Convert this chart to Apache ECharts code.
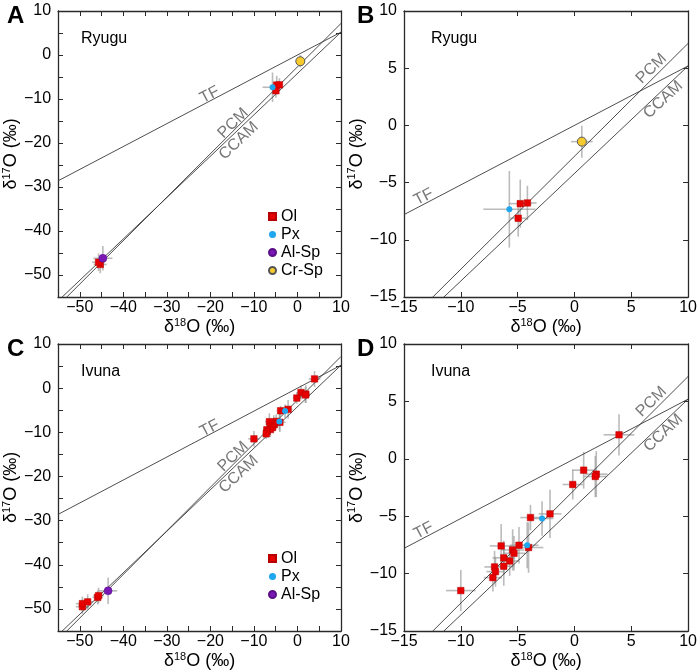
<!DOCTYPE html>
<html>
<head>
<meta charset="utf-8">
<script src="https://cdn.jsdelivr.net/npm/echarts@6/dist/echarts.min.js"></script>
<style>html,body{margin:0;padding:0;background:#fff}#c{width:700px;height:672px}</style>
</head>
<body>
<div id="c"></div>
<script>
// ---------------- data ----------------
// Ryugu
const RY_OL = [[-4.77,-6.84],[-4.14,-6.78],[-4.95,-8.12],[-45.3,-47.6],[-45.7,-47.1]];
const RY_OL_ERR = [[1.0,2.1],[0.8,1.5],[0.7,1.6],[1.5,2.0],[1.5,2.0]];
const RY_PX = [[-5.73,-7.33]];
const RY_PX_ERR = [[2.3,3.35]];
const RY_ALSP = [[-44.7,-46.2]];
const RY_ALSP_ERR = [[2.2,2.8]];
const RY_CRSP = [[0.65,-1.42]];
const RY_CRSP_ERR = [[0.95,1.4]];
// Ivuna
const IV_OL = [[3.92,2.09],[0.81,-0.99],[1.92,-1.34],[1.83,-1.54],[-0.15,-2.24],[-3.87,-5.12],[-2.15,-4.80],
  [-4.04,-7.73],[-4.88,-7.53],[-5.44,-7.94],[-5.32,-8.23],[-6.45,-7.59],[-6.22,-8.63],[-5.70,-8.90],
  [-7.03,-9.42],[-6.22,-9.36],[-6.95,-9.83],[-7.18,-10.35],[-10.0,-11.48],
  [-49.4,-49.5],[-49.4,-48.8],[-48.2,-48.4],[-45.9,-47.4],[-45.7,-47.0]];
const IV_OL_ERR = [[1.35,1.8],[1.0,1.6],[1.0,2.0],[1.0,1.8],[0.9,1.3],[0.9,1.1],[1.0,2.1],
  [1.3,2.2],[0.8,1.6],[1.0,1.8],[1.0,1.5],[1.0,1.9],[1.0,1.5],[0.8,1.3],
  [0.9,1.4],[0.9,1.7],[0.8,1.3],[0.8,1.2],[1.3,1.8],
  [1.5,1.6],[1.5,1.6],[1.2,1.7],[1.2,1.6],[1.2,1.8]];
const IV_PX = [[-2.85,-5.2],[-4.16,-7.53]];
const IV_PX_ERR = [[1.0,1.5],[1.0,2.0]];
const IV_ALSP = [[-43.5,-45.9]];
const IV_ALSP_ERR = [[2.1,3.0]];

// reference lines: d17O = slope * d18O + intercept
const LINE_NAMES = ['TF','PCM','CCAM'];
const LINE_SLOPE = [0.52, 0.987, 0.94];
const LINE_INTERCEPT = [0, -2.70, -4.20];

// axis ranges / ticks
const WIDE_RANGE = [-55, 10];
const WIDE_TICK = 5;
const WIDE_LABEL_STEP = 10;
const ZOOM_RANGE = [-15, 10];
const ZOOM_TICK = 5;
const ZOOM_LABEL_STEP = 5;

const PHASES = ['Ol','Px','Al-Sp','Cr-Sp'];

// ---------------- styling / layout ----------------
const FONT = "'Liberation Sans', Arial, Helvetica, sans-serif";
const W = 287;
const STYLE = {
  'Ol':    {symbol:'rect',   size:6.5, color:'#e60000', border:'#b80000', bw:0.5},
  'Px':    {symbol:'circle', size:6,   color:'#1ea6ee', border:'#1ea6ee', bw:0},
  'Al-Sp': {symbol:'circle', size:8,   color:'#7a18b5', border:'#5a0f88', bw:0.5},
  'Cr-Sp': {symbol:'circle', size:9,   color:'#f7cb2d', border:'#555',    bw:1}
};

const ryugu = {'Ol':[RY_OL,RY_OL_ERR],'Px':[RY_PX,RY_PX_ERR],'Al-Sp':[RY_ALSP,RY_ALSP_ERR],'Cr-Sp':[RY_CRSP,RY_CRSP_ERR]};
const ivuna = {'Ol':[IV_OL,IV_OL_ERR],'Px':[IV_PX,IV_PX_ERR],'Al-Sp':[IV_ALSP,IV_ALSP_ERR]};

// label anchor x (on the line) and perpendicular offset (px, + = above)
const WIDE_LBL = {TF:{x:-19.6,d:5.5}, PCM:{x:-13.9,d:5.5}, CCAM:{x:-14.8,d:-8.4}};
const ZOOM_LBL = {TF:{x:-13.0,d:6.5}, PCM:{x:7.26,d:8}, CCAM:{x:7.37,d:-7.5}};

const panels = [
  {letter:'A', site:'Ryugu', left:54,  top:11,  h:286, range:WIDE_RANGE, tick:WIDE_TICK, lstep:WIDE_LABEL_STEP, data:ryugu, lbl:WIDE_LBL, legendTop:205},
  {letter:'B', site:'Ryugu', left:404, top:11,  h:286, range:ZOOM_RANGE, tick:ZOOM_TICK, lstep:ZOOM_LABEL_STEP, data:ryugu, lbl:ZOOM_LBL},
  {letter:'C', site:'Ivuna', left:54,  top:344, h:287, range:WIDE_RANGE, tick:WIDE_TICK, lstep:WIDE_LABEL_STEP, data:ivuna, lbl:WIDE_LBL, legendTop:547},
  {letter:'D', site:'Ivuna', left:404, top:344, h:287, range:ZOOM_RANGE, tick:ZOOM_TICK, lstep:ZOOM_LABEL_STEP, data:ivuna, lbl:ZOOM_LBL}
];

function minus(v){ return v < 0 ? '\u2212' + Math.abs(v) : String(v); }
function axisName(n){ return '{d|\u03b4}{s|' + n + '}{d|O (\u2030)}'; }
const nameStyle = {
  color:'#000', fontFamily:FONT,
  rich:{ d:{fontSize:18, fontFamily:FONT, color:'#000'},
         s:{fontSize:11, fontFamily:FONT, color:'#000', padding:[0,0,9,0]} }
};

const grids=[], xAxes=[], yAxes=[], series=[], titles=[], legends=[];

panels.forEach((p, i) => {
  const [mn, mx] = p.range;
  grids.push({left:p.left, top:p.top, width:W, height:p.h});
  const fmt = v => (Math.abs(v % p.lstep) < 1e-9 ? minus(v) : '');
  const base = {
    gridIndex:i, type:'value', min:mn, max:mx, interval:p.tick, scale:false,
    splitLine:{show:false},
    axisLine:{show:true, onZero:false, lineStyle:{color:'#2a2a2a', width:1.3}},
    axisTick:{show:true, inside:true, length:5, lineStyle:{color:'#2a2a2a', width:1}}
  };
  xAxes.push(Object.assign({}, base, {
    position:'bottom',
    axisLabel:{formatter:fmt, fontSize:16, color:'#000', margin:3, fontFamily:FONT, showMinLabel:true, showMaxLabel:true, hideOverlap:false},
    name:axisName(18), nameLocation:'middle', nameGap:20, nameTextStyle:nameStyle
  }));
  xAxes.push(Object.assign({}, base, {position:'top', axisLabel:{show:false}}));
  yAxes.push(Object.assign({}, base, {
    position:'left',
    axisLabel:{formatter:fmt, fontSize:16, color:'#000', margin:7, fontFamily:FONT, showMinLabel:true, showMaxLabel:true, hideOverlap:false},
    name:axisName(17), nameLocation:'middle', nameRotate:90, nameGap:30, nameTextStyle:nameStyle
  }));
  yAxes.push(Object.assign({}, base, {position:'right', axisLabel:{show:false}}));

  const xi = 2*i, yi = 2*i;
  const inRange = pt => pt[0] >= mn && pt[0] <= mx && pt[1] >= mn && pt[1] <= mx;

  // error bars
  const errData = [];
  Object.keys(p.data).forEach(k => {
    const [pts, errs] = p.data[k];
    pts.forEach((pt, j) => { if (inRange(pt)) errData.push([pt[0], pt[1], errs[j][0], errs[j][1]]); });
  });
  series.push({
    type:'custom', xAxisIndex:xi, yAxisIndex:yi, silent:true, z:1, clip:true,
    encode:{x:0, y:1},
    data:errData,
    renderItem:(params, api) => {
      const x = api.value(0), y = api.value(1), xe = api.value(2), ye = api.value(3);
      const a = api.coord([x-xe, y]), b = api.coord([x+xe, y]);
      const c = api.coord([x, y-ye]), d = api.coord([x, y+ye]);
      const st = {stroke:'rgba(150,150,150,0.65)', lineWidth:1.6};
      return {type:'group', children:[
        {type:'line', shape:{x1:a[0], y1:a[1], x2:b[0], y2:b[1]}, style:st},
        {type:'line', shape:{x1:c[0], y1:c[1], x2:d[0], y2:d[1]}, style:st}
      ]};
    }
  });

  // reference lines + labels
  const sx = W/(mx-mn), sy = p.h/(mx-mn);
  LINE_NAMES.forEach((ln, k) => {
    const f = x => LINE_SLOPE[k]*x + LINE_INTERCEPT[k];
    series.push({
      type:'line', name:'line-'+ln, xAxisIndex:xi, yAxisIndex:yi, silent:true, z:2,
      symbol:'none', clip:true, animation:false,
      lineStyle:{color:'#3a3a3a', width:0.9},
      data:[[mn, f(mn)], [mx, f(mx)]]
    });
    const L = p.lbl[ln];
    const th = Math.atan(LINE_SLOPE[k]*sy/sx);
    const xc = L.x - L.d*Math.sin(th)/sx;
    const yc = f(L.x) + L.d*Math.cos(th)/sy;
    series.push({
      type:'scatter', name:'lbl-'+ln, xAxisIndex:xi, yAxisIndex:yi, silent:true, z:2,
      symbolSize:1, itemStyle:{color:'rgba(0,0,0,0)'},
      label:{show:true, position:'inside', formatter:ln, rotate:th*180/Math.PI,
             fontSize:16, color:'#555', fontFamily:FONT},
      data:[[xc, yc]]
    });
  });

  // points
  PHASES.forEach(ph => {
    if (!p.data[ph]) return;
    const s = STYLE[ph];
    series.push({
      type:'scatter', name:ph, xAxisIndex:xi, yAxisIndex:yi, z:3,
      symbol:s.symbol, symbolSize:s.size,
      itemStyle:{color:s.color, borderColor:s.border, borderWidth:s.bw, opacity:1},
      data:p.data[ph][0].filter(inRange)
    });
  });

  titles.push({text:p.letter, left:p.left-52, top:p.top-12,
    textStyle:{fontSize:24, fontWeight:'bold', fontFamily:FONT, color:'#000'}});
  titles.push({text:p.site, left:p.left+22, top:p.top+15,
    textStyle:{fontSize:16, fontWeight:'normal', fontFamily:FONT, color:'#000'}});

  if (p.legendTop !== undefined) {
    legends.push({
      orient:'vertical', left:p.left+209, top:p.legendTop-2,
      data:PHASES.filter(ph => p.data[ph]),
      itemWidth:7, itemHeight:7, itemGap:1, selectedMode:false,
      textStyle:{fontSize:16, color:'#000', fontFamily:FONT, lineHeight:17}
    });
  }
});

const chart = echarts.init(document.getElementById('c'), null, {renderer:'canvas'});
chart.setOption({
  animation:false,
  backgroundColor:'#fff',
  title:titles,
  legend:legends,
  grid:grids,
  xAxis:xAxes,
  yAxis:yAxes,
  series:series
});
</script>
</body>
</html>
